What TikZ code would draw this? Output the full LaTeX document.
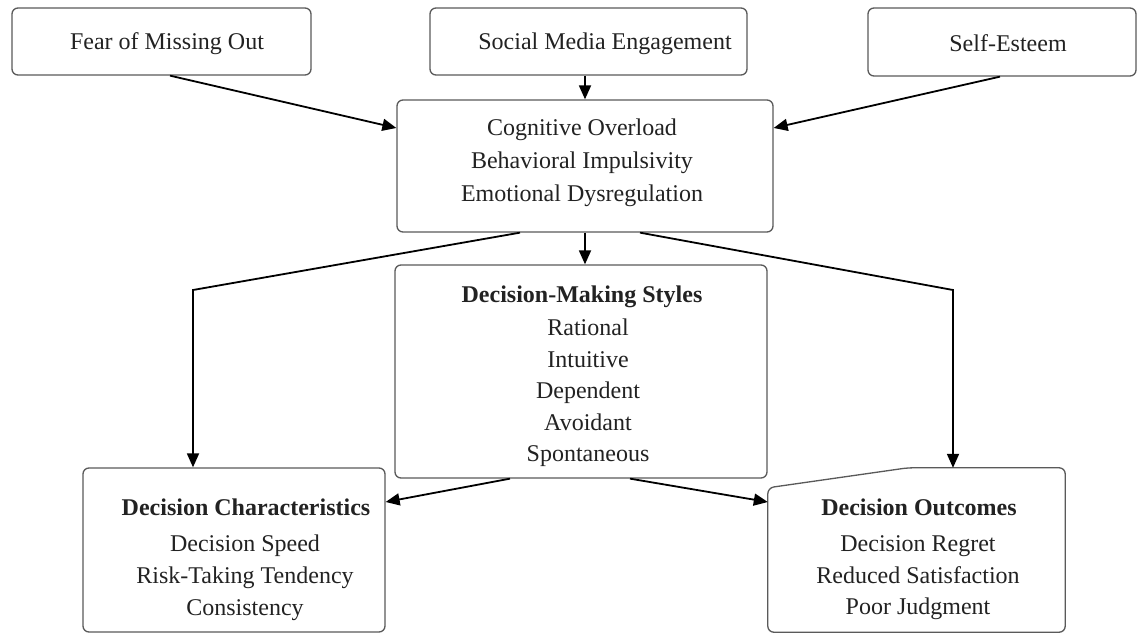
\documentclass[tikz,border=0pt]{standalone}
\usepackage{fontspec}
\setmainfont{Liberation Serif}
\usetikzlibrary{arrows.meta}
\definecolor{boxline}{HTML}{5A5A5A}
\definecolor{txt}{HTML}{222222}
\begin{document}
\begin{tikzpicture}[x=1pt,y=-1pt,
  box/.style={draw=boxline,line width=1.3pt,rounded corners=6pt,inner sep=0pt},
  lbl/.style={text=txt,font=\fontsize{24}{31.5}\selectfont,align=center,inner sep=0pt},
  hd/.style={text=txt,font=\fontsize{24}{31.5}\selectfont\bfseries,inner sep=0pt},
  arr/.style={draw=black,line width=1.8pt,-{Triangle[length=14pt,width=12pt]}}]
\useasboundingbox[fill=white] (0,0) rectangle (1138,634);
% boxes
\node[box,minimum width=299pt,minimum height=67pt] (fomo) at (161.5,41.5) {};
\node[box,minimum width=317pt,minimum height=67pt] (sme) at (588.5,41.5) {};
\node[box,minimum width=268pt,minimum height=68pt] (se) at (1002,42) {};
\node[box,minimum width=376pt,minimum height=132pt] (ctr) at (585,166) {};
\node[box,minimum width=372pt,minimum height=213pt] (dms) at (581,371.5) {};
\node[box,minimum width=302pt,minimum height=164pt] (dc) at (234,550) {};
\node[inner sep=0pt,minimum width=297pt,minimum height=164pt] (do) at (916.5,550) {};
\draw[draw=boxline,line width=1.3pt,rounded corners=6pt]
  ([yshift=-20pt]do.north west) -- ([xshift=140pt]do.north west) -- (do.north east)
  -- (do.south east) -- (do.south west) -- cycle;
% texts
\node[lbl] (t1) at (167,44) {Fear of Missing Out};
\node[lbl] (t2) at (605,44) {Social Media Engagement};
\node[lbl] (t3) at (1008,43) {Self-Esteem};
\node[lbl,font=\fontsize{24}{33}\selectfont] (t4) at (582,163) {Cognitive Overload\\Behavioral Impulsivity\\Emotional Dysregulation};
\node[hd] (t5) at (582,297) {Decision-Making Styles};
\node[lbl] (t6) at (588,393) {Rational\\Intuitive\\Dependent\\Avoidant\\Spontaneous};
\node[hd] (t7) at (246,507) {Decision Characteristics};
\node[lbl,font=\fontsize{24}{32}\selectfont] (t8) at (245,578) {Decision Speed\\Risk-Taking Tendency\\Consistency};
\node[hd] (t9) at (919,507) {Decision Outcomes};
\node[lbl] (t10) at (918,578) {Decision Regret\\Reduced Satisfaction\\Poor Judgment};
% connectors
\coordinate (bl) at (193,290);
\coordinate (br) at (953,290);
\draw[arr] ([xshift=8.5pt]fomo.south) -- ([yshift=38pt]ctr.west);
\draw[arr] (ctr.north |- sme.south) -- (ctr.north);
\draw[arr] ([xshift=-2pt]se.south) -- ([yshift=38pt]ctr.east);
\draw[arr] ([xshift=-65pt]ctr.south) -- (bl) -- (bl |- dc.north);
\draw[arr] (ctr.south) -- (ctr.south |- dms.north);
\draw[arr] ([xshift=55pt]ctr.south) -- (br) -- (br |- do.north);
\draw[arr] ([xshift=-71pt]dms.south) -- ([yshift=48pt]dc.east);
\draw[arr] ([xshift=49pt]dms.south) -- ([yshift=48pt]do.west);
\end{tikzpicture}
\end{document}
